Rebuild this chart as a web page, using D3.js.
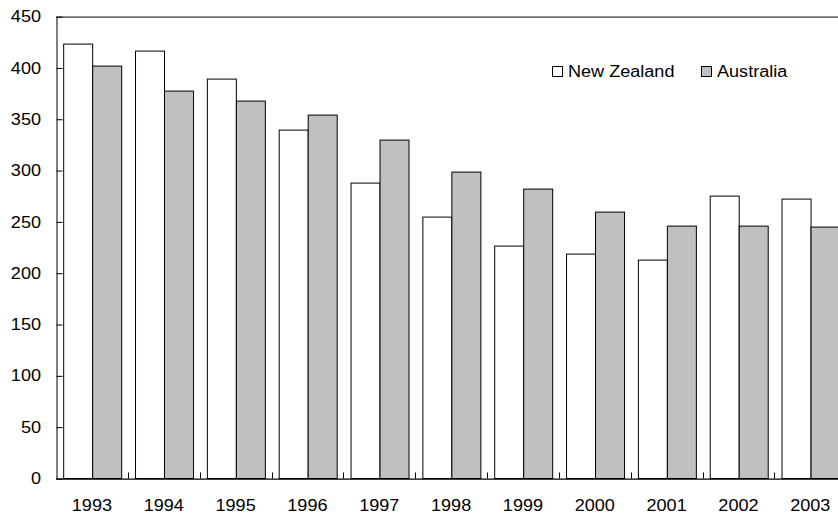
<!DOCTYPE html>
<html>
<head>
<meta charset="utf-8">
<script src="https://cdn.jsdelivr.net/npm/d3@7"></script>
<style>
  html, body { margin: 0; padding: 0; background: #fff; overflow: hidden; }
  svg { display: block; font-family: "Liberation Sans", Arial, sans-serif; }
</style>
</head>
<body>
<svg id="chart" width="838" height="519"></svg>
<script>
// Annual values, 1993–2003
const years = ["1993","1994","1995","1996","1997","1998","1999","2000","2001","2002","2003"];
const newZealand = [424, 417, 390, 340, 288, 255, 227, 219, 213, 276, 273];
const australia  = [402, 378, 368, 355, 330, 299, 282, 260, 246, 246, 245];
const seriesNames = ["New Zealand", "Australia"];
const yTicks = [0, 50, 100, 150, 200, 250, 300, 350, 400, 450];

const colors = { "New Zealand": "#ffffff", "Australia": "#c0c0c0" };
const stretch = 1.13; // wide lettering

const svg = d3.select("#chart");
const margin = { left: 56, top: 16.6, bottom: 40.5 };
const plotW = 790.2;
const plotH = 519 - margin.top - margin.bottom;

const g = svg.append("g").attr("transform", `translate(${margin.left},${margin.top})`);

const x = d3.scaleBand().domain(years).range([0, plotW]).paddingInner(0.2).paddingOuter(0.1);
const xs = d3.scaleBand().domain(seriesNames).range([0, x.bandwidth()]);
const y = d3.scaleLinear().domain([0, 450]).range([plotH, 0]);

const rows = years.map((yr, i) => ({ year: yr, values: [
  { name: "New Zealand", v: newZealand[i] },
  { name: "Australia", v: australia[i] }
]}));

// bars
const groups = g.selectAll("g.yr").data(rows).join("g")
  .attr("class", "yr")
  .attr("transform", d => `translate(${x(d.year)},0)`);
groups.selectAll("rect").data(d => d.values).join("rect")
  .attr("x", d => Math.round(xs(d.name)) + 0.5)
  .attr("y", d => Math.round(y(d.v)) + 0.5)
  .attr("width", Math.round(xs.bandwidth()))
  .attr("height", d => y(0) - Math.round(y(d.v)) - 0.5)
  .attr("fill", d => colors[d.name])
  .attr("stroke", "#000")
  .attr("stroke-width", 1);

// frame top edge
g.append("line")
  .attr("x1", 0).attr("x2", plotW)
  .attr("y1", 0.5).attr("y2", 0.5)
  .attr("stroke", "#000").attr("stroke-width", 1);

// y axis, ticks pointing inward
const yAxis = g.append("g").attr("transform", "translate(0.5,0)")
  .call(d3.axisLeft(y).tickValues(yTicks).tickSize(-6).tickPadding(15).tickSizeOuter(0));
yAxis.select(".domain").attr("stroke", "#000");
yAxis.selectAll(".tick line").attr("stroke", "#000");
yAxis.selectAll(".tick text")
  .attr("x", null)
  .attr("transform", `translate(-15.5,0) scale(${stretch},1)`)
  .attr("font-size", 16).attr("fill", "#000")
  .attr("font-family", "\"Liberation Sans\", Arial, sans-serif");

// x axis labels
const xAxis = g.append("g").attr("transform", `translate(0,${plotH})`)
  .call(d3.axisBottom(x).tickSize(0).tickPadding(21).tickSizeOuter(0));
xAxis.select(".domain").remove();
xAxis.selectAll(".tick text")
  .attr("transform", `scale(${stretch},1)`)
  .attr("x", 0)
  .attr("font-size", 16).attr("fill", "#000")
  .attr("font-family", "\"Liberation Sans\", Arial, sans-serif");
xAxis.selectAll(".tick text").each(function () {
  // keep label centred after horizontal stretch
  d3.select(this).attr("transform", `scale(${stretch},1)`);
});

// x axis baseline and category separators
g.append("line")
  .attr("x1", 0).attr("x2", plotW)
  .attr("y1", Math.round(plotH) + 0.5).attr("y2", Math.round(plotH) + 0.5)
  .attr("stroke", "#000").attr("stroke-width", 1.2);
const step = x.step();
g.selectAll("line.sep").data(d3.range(1, years.length)).join("line")
  .attr("class", "sep")
  .attr("x1", d => Math.round(d * step) + 0.5)
  .attr("x2", d => Math.round(d * step) + 0.5)
  .attr("y1", plotH).attr("y2", plotH - 6)
  .attr("stroke", "#000");

// legend
const legendX = [552.5, 701.5];
const legend = svg.selectAll("g.legend").data(seriesNames).join("g")
  .attr("class", "legend")
  .attr("transform", (d, i) => `translate(${legendX[i]},66.5)`);
legend.append("rect")
  .attr("width", 10).attr("height", 10)
  .attr("fill", d => colors[d]).attr("stroke", "#000");
legend.append("text")
  .attr("transform", `translate(15.5,10.2) scale(${stretch},1)`)
  .attr("font-size", 16).attr("fill", "#000")
  .text(d => d);
</script>
</body>
</html>
